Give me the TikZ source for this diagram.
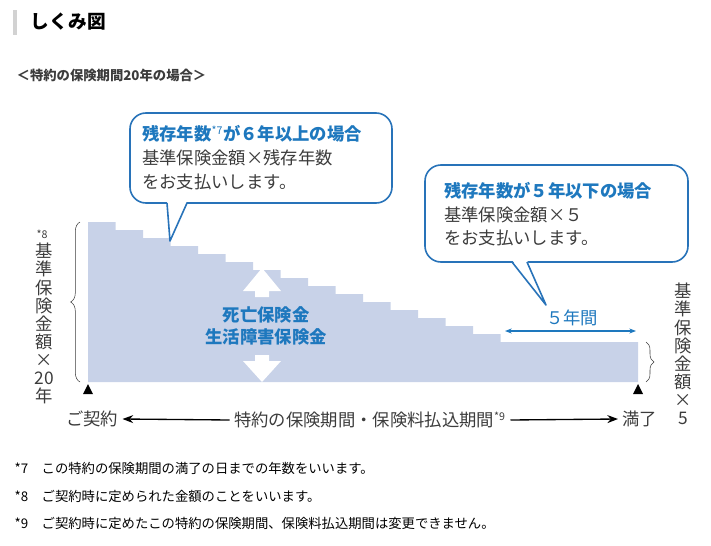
\documentclass[tikz,border=0pt]{standalone}
\usepackage{fontspec}
\setmainfont{Noto Sans CJK JP}
\usetikzlibrary{arrows.meta,decorations.pathreplacing}
\definecolor{stairfill}{RGB}{200,210,232}
\definecolor{bubbleline}{RGB}{40,115,185}
\definecolor{bluetext}{RGB}{30,120,190}
\definecolor{graytext}{RGB}{60,60,60}
\tikzset{
  bubble/.style={draw=bubbleline,line width=1.2pt,fill=white,rounded corners=12pt},
  jtext/.style={anchor=west,text=graytext,font=\fontsize{13pt}{15pt}\selectfont,inner sep=0pt},
  btext/.style={anchor=west,text=bluetext,font=\bfseries\fontsize{13pt}{15pt}\selectfont,inner sep=0pt},
  vtext/.style={align=center,text=graytext,font=\fontsize{13pt}{13.6pt}\selectfont,inner sep=0pt},
  note/.style={anchor=west,text=black,font=\fontsize{10pt}{12pt}\selectfont}
}
\begin{document}
\begin{tikzpicture}[x=0.75pt,y=-0.75pt]
\useasboundingbox (0,0) rectangle (711,546);
% title
\fill[gray!35] (13,10) rectangle (17,35);
\node[anchor=west,font=\bfseries\fontsize{14pt}{16pt}\selectfont] (title) at (26,22) {しくみ図};
\node[anchor=west,font=\bfseries\fontsize{10pt}{12pt}\selectfont,text=graytext] (case) at (12,75) {＜特約の保険期間20年の場合＞};
% staircase
\fill[stairfill] (88,382) -- (88,222)
  \foreach \i in {0,...,14} { -- ({88+27.5*\i},{222+8*\i}) -- ({88+27.5*(\i+1)},{222+8*\i}) }
  -- (500.5,342) -- (638,342) -- (638,382) -- cycle;
% white double arrow
\fill[white] (262,268) -- (281,291) -- (269,291) -- (269,297) -- (255,297) -- (255,291) -- (243,291) -- cycle;
\fill[white] (262,382) -- (281,361) -- (269,361) -- (269,355) -- (255,355) -- (255,361) -- (243,361) -- cycle;
\node[align=center,text=bluetext,font=\bfseries\fontsize{13pt}{17pt}\selectfont] (benefit) at (266,326) {死亡保険金\\生活障害保険金};
% bubble 1
\draw[bubble] (130,113) rectangle (392,203);
\fill[white] (167,201) -- (170,241) -- (187,201) -- cycle;
\draw[bubbleline,line width=1.2pt,line join=round] (167,203) -- (170,241) -- (187,203);
\node[btext] (b1a) at (142,134) {残存年数\textsuperscript{\normalfont\footnotesize *7}が６年以上の場合};
\node[jtext] (b1b) at (142,158) {基準保険金額×残存年数};
\node[jtext] (b1c) at (142,182) {をお支払いします。};
% bubble 2
\draw[bubble] (425,165) rectangle (688,262);
\fill[white] (512,260) -- (546,305) -- (527,260) -- cycle;
\draw[bubbleline,line width=1.2pt,line join=round] (512,262) -- (546,305) -- (527,262);
\node[btext] (b2a) at (444,191) {残存年数が５年以下の場合};
\node[jtext] (b2b) at (444,215) {基準保険金額×５};
\node[jtext] (b2c) at (444,238) {をお支払いします。};
% five years
\coordinate (f1) at (505,331);
\coordinate (f2) at (636,331);
\draw[bluetext,line width=1pt,{Stealth[length=5pt]}-{Stealth[length=5pt]}] (f1) -- (f2);
\node[text=bluetext,font=\fontsize{13pt}{15pt}\selectfont] (five) at (572,318) {５年間};
% braces
\draw[graytext,decorate,decoration={brace,amplitude=7pt}] (80,382) -- (80,222);
\draw[graytext,decorate,decoration={brace,amplitude=6pt}] (646,342) -- (646,382);
\node[font=\fontsize{8pt}{9pt}\selectfont,text=graytext] (s8) at (42,234) {*8};
\node[vtext,anchor=north] (left) at (44,243) {基\\準\\保\\険\\金\\額\\×\\20\\年};
\node[vtext,anchor=north] (right) at (683,283) {基\\準\\保\\険\\金\\額\\×\\5};
% axis
\fill (88,384) -- (83,394) -- (93,394) -- cycle;
\fill (638,384) -- (633,394) -- (643,394) -- cycle;
\node[jtext] (start) at (66,419) {ご契約};
\node[text=graytext,font=\fontsize{13pt}{15pt}\selectfont] (period) at (370,420) {特約の保険期間・保険料払込期間\textsuperscript{\footnotesize *9}};
\node[jtext] (end) at (622,419) {満了};
\draw[line width=1pt,-{Stealth[length=8pt]}] (period.west) -- ([xshift=3pt]start.east);
\draw[line width=1pt,-{Stealth[length=8pt]}] (period.east) -- ([xshift=-3pt]end.west);
% notes
\node[note] (n7) at (10,468) {*7\quad この特約の保険期間の満了の日までの年数をいいます。};
\node[note] (n8) at (10,496) {*8\quad ご契約時に定められた金額のことをいいます。};
\node[note] (n9) at (10,523) {*9\quad ご契約時に定めたこの特約の保険期間、保険料払込期間は変更できません。};
\end{tikzpicture}
\end{document}
